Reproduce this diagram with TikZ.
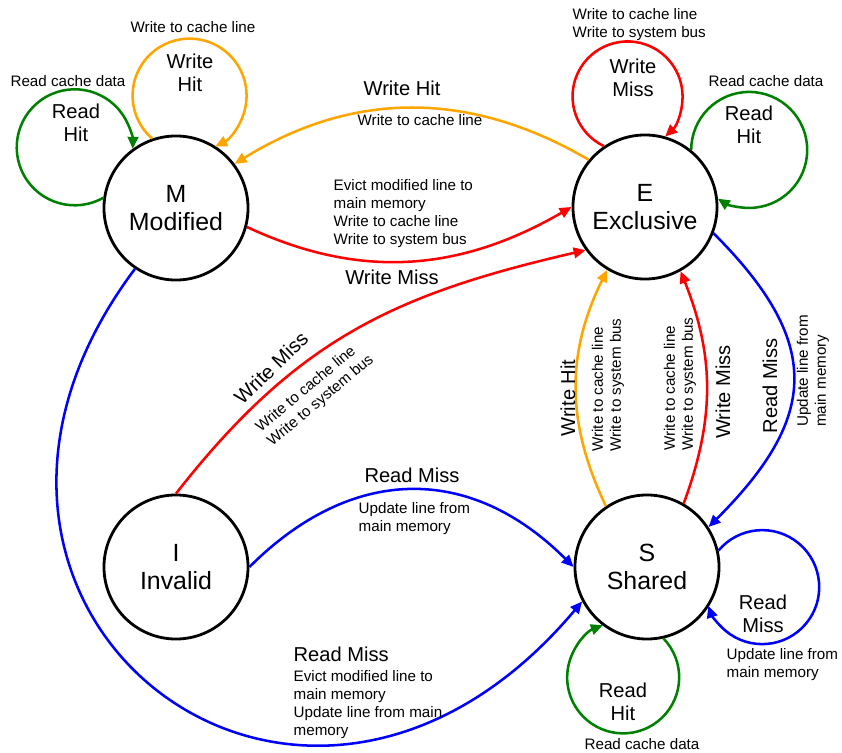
\documentclass[tikz,border=0pt]{standalone}
\usepackage{fontspec}
\setmainfont{Liberation Sans}
\usepackage{tikz}
\usetikzlibrary{arrows.meta}

\definecolor{hitgreen}{RGB}{0,128,0}
\definecolor{hitorange}{RGB}{255,165,0}
\newcommand\statefont{\fontsize{17.7pt}{20pt}\selectfont}
\newcommand\lblfont{\fontsize{14.3pt}{16.3pt}\selectfont}
\newcommand\actfont{\fontsize{10.8pt}{12.8pt}\selectfont}

\begin{document}
\begin{tikzpicture}[x=0.025cm,y=-0.025cm,
	state/.style={circle,draw,line width=2pt,minimum size=3.6cm,inner sep=0pt,align=center,font=\statefont},
	trans/.style={line width=1.8pt,-{Triangle[length=8.5pt,width=7.5pt]}},
	rdhit/.style={trans,hitgreen},
	wrhit/.style={trans,hitorange},
	rdmiss/.style={trans,blue},
	wrmiss/.style={trans,red},
	biglbl/.style={font=\lblfont,align=center,inner sep=1pt},
	smllbl/.style={font=\actfont,align=left,inner sep=1pt}]
	\useasboundingbox (0,0) rectangle (842,753);
	
	%STATES
	\node[state] (M) at (176,208) {M\\Modified};
	\node[state] (E) at (645,207) {E\\Exclusive};
	\node[state] (I) at (176,567) {I\\Invalid};
	\node[state] (S) at (647,567) {S\\Shared};
	
	%SELF LOOPS
	\draw[rdhit] (M.172) arc[start angle=60.5,end angle=361.5,radius=58];
	\draw[wrhit] (M.109) arc[start angle=131.1,end angle=423.3,radius=57];
	\draw[wrmiss] (E.124) arc[start angle=115.4,end angle=406.8,radius=55];
	\draw[rdhit] (E.51) arc[start angle=180,end angle=482.8,radius=58];
	\draw[rdmiss] (S.13) arc[start angle=220,end angle=520.9,radius=57];
	\draw[rdhit] (S.-77) arc[start angle=-43.9,end angle=248.7,radius=56];
	%
	\node[biglbl] (mrh) at (76,123) {Read\\Hit};
	\node[smllbl] (mrha) at (68,81) {Read cache data};
	\node[biglbl] (mwh) at (190,73) {Write\\Hit};
	\node[smllbl] (mwha) at (193,27) {Write to cache line};
	\node[biglbl] (ewm) at (633,78) {Write\\Miss};
	\node[smllbl,anchor=west] (ewma) at (571,25) {Write to cache line\\Write to system bus};
	\node[biglbl] (erh) at (749,125) {Read\\Hit};
	\node[smllbl] (erha) at (766,81) {Read cache data};
	\node[biglbl] (srm) at (763,614) {Read\\Miss};
	\node[smllbl,anchor=west] (srma) at (725,665) {Update line from\\main memory};
	\node[biglbl] (srh) at (623,702) {Read\\Hit};
	\node[smllbl] (srha) at (642,744) {Read cache data};
	
	%TRANSITIONS
	\draw[wrhit] (E.140) to[bend right=31] (M.37);
	\draw[wrmiss] (M.-15) to[out=-25,in=210] (E.180);
	\draw[wrmiss] (I.90) to[out=52,in=193,looseness=1.05] (E.216);
	\draw[wrhit] (S.124) to[bend left=26] (E.239);
	\draw[wrmiss] (S.60) to[bend right=21] (E.-61);
	\draw[rdmiss] (E.-21) to[out=-45,in=45,looseness=1.35] (S.33);
	\draw[rdmiss] (I.0) to[out=45,in=135,looseness=1.15] (S.180);
	\draw[rdmiss] (M.236) .. controls (-118,606) and (297,940) .. (S.208);
	
	%TRANSITION LABELS
	\node[biglbl] (emh) at (402,88) {Write Hit};
	\node[smllbl] (emha) at (420,120) {Write to cache line};
	\node[smllbl,anchor=west] (mewa) at (332,214) {Evict modified line to\\main memory\\Write to cache line\\Write to system bus};
	\node[biglbl] (mew) at (392,277) {Write Miss};
	\node[biglbl,rotate=44] (iew) at (271,368) {Write Miss};
	\node[smllbl,rotate=40] (iewa) at (315,394) {Write to cache line\\Write to system bus};
	\node[biglbl,rotate=90] (seh) at (568,398) {Write Hit};
	\node[smllbl,rotate=90] (seha) at (608,385) {Write to cache line\\Write to system bus};
	\node[smllbl,rotate=90] (sewa) at (680,384) {Write to cache line\\Write to system bus};
	\node[biglbl,rotate=90] (sew) at (723,392) {Write Miss};
	\node[biglbl,rotate=90] (esr) at (770,386) {Read Miss};
	\node[smllbl,rotate=90] (esra) at (813,371) {Update line from\\main memory};
	\node[biglbl] (isr) at (412,475) {Read Miss};
	\node[smllbl,anchor=west] (isra) at (357,519) {Update line from\\main memory};
	\node[biglbl,anchor=west] (msr) at (292,654) {Read Miss};
	\node[smllbl,anchor=west] (msra) at (292,705) {Evict modified line to\\main memory\\Update line from main\\memory};
\end{tikzpicture}
\end{document}
